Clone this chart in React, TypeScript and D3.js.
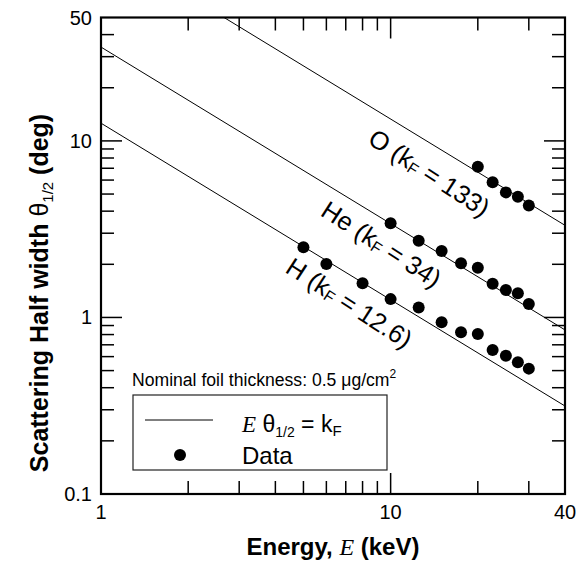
import React from "react";
import * as d3 from "d3";

const W = 577;
const H = 570;
const PLOT = { left: 101, right: 565, top: 17.5, bottom: 494 };

const xDomain = [1, 40];
const yDomain = [0.1, 50];
const xTickLabels = ["1", "10", "40"];
const xTickValues = [1, 10, 40];
const yTickLabels = ["0.1", "1", "10", "50"];
const yTickValues = [0.1, 1, 10, 50];
const xMajorTicks = [10];
const xMinorTicks = [2, 3, 4, 5, 6, 7, 8, 9, 20, 30];
const yMajorTicks = [1, 10];
const yMinorTicks = [0.2, 0.3, 0.4, 0.5, 0.6, 0.7, 0.8, 0.9, 2, 3, 4, 5, 6, 7, 8, 9, 20, 30, 40];

// k_F constants for the fitted lines  E * theta = k_F
const kValues = [133, 34, 12.6];
const lineNames = ["O", "He", "H"];
const kLabels = ["133", "34", "12.6"];
// label anchor positions (E, theta) for each annotation
const labelE = [13.6, 9.3, 7.2];
const labelTheta = [6.6, 2.6, 1.21];

// Data points
const oEnergy = [20, 22.5, 25, 27.5, 30];
const oTheta = [7.14, 5.83, 5.11, 4.83, 4.3];
const heEnergy = [10, 12.5, 15, 17.5, 20, 22.5, 25, 27.5, 30];
const heTheta = [3.42, 2.72, 2.38, 2.03, 1.91, 1.55, 1.43, 1.37, 1.19];
const hEnergy = [5, 6, 8, 10, 12.5, 15, 17.5, 20, 22.5, 25, 27.5, 30];
const hTheta = [2.5, 2.01, 1.56, 1.27, 1.14, 0.938, 0.824, 0.806, 0.654, 0.607, 0.557, 0.513];

const SANS = "'Liberation Sans', Arial, Helvetica, sans-serif";
const SERIF = "'Liberation Serif', 'Times New Roman', serif";

export default function App() {
  const x = d3.scaleLog().domain(xDomain).range([PLOT.left, PLOT.right]);
  const y = d3.scaleLog().domain(yDomain).range([PLOT.bottom, PLOT.top]);

  const lineGen = d3
    .line<number[]>()
    .x((d) => x(d[0]))
    .y((d) => y(d[1]));

  const points: [number, number][] = [];
  oEnergy.forEach((e, i) => points.push([e, oTheta[i]]));
  heEnergy.forEach((e, i) => points.push([e, heTheta[i]]));
  hEnergy.forEach((e, i) => points.push([e, hTheta[i]]));

  const minorLen = 13;
  const majorLen = 21;

  // slope angle of lines in pixel space
  const angle = (Math.atan2(y(1) - y(10), x(10) - x(1)) * 180) / Math.PI + 1.5;

  return (
    <svg
      width={W}
      height={H}
      style={{ position: "absolute", left: 0, top: 0, display: "block", background: "#fff" }}
    >
      <defs>
        <clipPath id="plotclip">
          <rect x={PLOT.left} y={PLOT.top} width={PLOT.right - PLOT.left} height={PLOT.bottom - PLOT.top} />
        </clipPath>
      </defs>

      {/* lines */}
      <g clipPath="url(#plotclip)">
        {kValues.map((k, i) => (
          <path
            key={i}
            d={lineGen([
              [xDomain[0], k / xDomain[0]],
              [xDomain[1], k / xDomain[1]],
            ]) as string}
            fill="none"
            stroke="#000"
            strokeWidth={1}
          />
        ))}
      </g>

      {/* ticks */}
      <g stroke="#000" strokeWidth={1.5}>
        {xMinorTicks.concat(xMajorTicks).map((v, i) => {
          const len = xMajorTicks.includes(v) ? majorLen : minorLen;
          return (
            <g key={"xt" + i}>
              <line x1={x(v)} x2={x(v)} y1={PLOT.bottom} y2={PLOT.bottom - len} />
              <line x1={x(v)} x2={x(v)} y1={PLOT.top} y2={PLOT.top + len} />
            </g>
          );
        })}
        {yMinorTicks.concat(yMajorTicks).map((v, i) => {
          const len = yMajorTicks.includes(v) ? majorLen : minorLen;
          return (
            <g key={"yt" + i}>
              <line y1={y(v)} y2={y(v)} x1={PLOT.left} x2={PLOT.left + len} />
              <line y1={y(v)} y2={y(v)} x1={PLOT.right} x2={PLOT.right - len} />
            </g>
          );
        })}
      </g>

      {/* frame */}
      <rect
        x={PLOT.left}
        y={PLOT.top}
        width={PLOT.right - PLOT.left}
        height={PLOT.bottom - PLOT.top}
        fill="none"
        stroke="#000"
        strokeWidth={2.2}
      />

      {/* tick labels */}
      <g fontFamily={SANS} fontSize={20} fill="#000">
        {xTickValues.map((v, i) => (
          <text key={"xl" + i} x={x(v)} y={519} textAnchor="middle">
            {xTickLabels[i]}
          </text>
        ))}
        {yTickValues.map((v, i) => (
          <text key={"yl" + i} x={92} y={y(v) + 7} textAnchor="end">
            {yTickLabels[i]}
          </text>
        ))}
      </g>

      {/* data points */}
      {points.map((p, i) => (
        <circle key={"p" + i} cx={x(p[0])} cy={y(p[1])} r={6} fill="#000" />
      ))}

      {/* line annotations */}
      <g fontFamily={SANS} fontSize={25.5} fill="#000">
        {lineNames.map((n, i) => (
          <text
            key={"lab" + i}
            transform={`translate(${x(labelE[i])},${y(labelTheta[i])}) rotate(${angle})`}
            textAnchor="middle"
            dominantBaseline="central"
          >
            {n} (k
            <tspan fontSize={16} dy={5}>F</tspan>
            <tspan dy={-5}> = {kLabels[i]})</tspan>
          </text>
        ))}
      </g>

      {/* legend */}
      <text x={132} y={386} fontFamily={SANS} fontSize={17.6} fill="#000">
        Nominal foil thickness: 0.5 μg/cm
        <tspan fontSize={12} dy={-8}>2</tspan>
      </text>
      <rect x={133} y={395} width={254} height={75} fill="#fff" stroke="#222" strokeWidth={1.2} />
      <line x1={145} x2={213} y1={420} y2={420} stroke="#000" strokeWidth={1} />
      <text x={242} y={432} fontSize={23} fill="#000" fontFamily={SANS}>
        <tspan fontFamily={SERIF} fontStyle="italic">E</tspan>
        <tspan> θ</tspan>
        <tspan fontSize={14} dy={5}>1/2</tspan>
        <tspan dy={-5}> = k</tspan>
        <tspan fontSize={15} dy={4}>F</tspan>
      </text>
      <circle cx={180} cy={455} r={6} fill="#000" />
      <text x={242} y={464} fontSize={24} fill="#000" fontFamily={SANS}>
        Data
      </text>

      {/* axis titles */}
      <text
        x={(PLOT.left + PLOT.right) / 2}
        y={555}
        textAnchor="middle"
        fontFamily={SANS}
        fontWeight="bold"
        fontSize={24}
        fill="#000"
      >
        Energy,{" "}
        <tspan fontFamily={SERIF} fontStyle="italic" fontWeight="normal">E</tspan> (keV)
      </text>
      <text
        transform={`translate(48,293) rotate(-90)`}
        textAnchor="middle"
        fontFamily={SANS}
        fontWeight="bold"
        fontSize={25}
        fill="#000"
      >
        Scattering Half width{" "}
        <tspan fontWeight="normal">θ</tspan>
        <tspan fontWeight="normal" fontSize={15} dy={5}>1/2</tspan>
        <tspan dy={-5}> (deg)</tspan>
      </text>
    </svg>
  );
}
